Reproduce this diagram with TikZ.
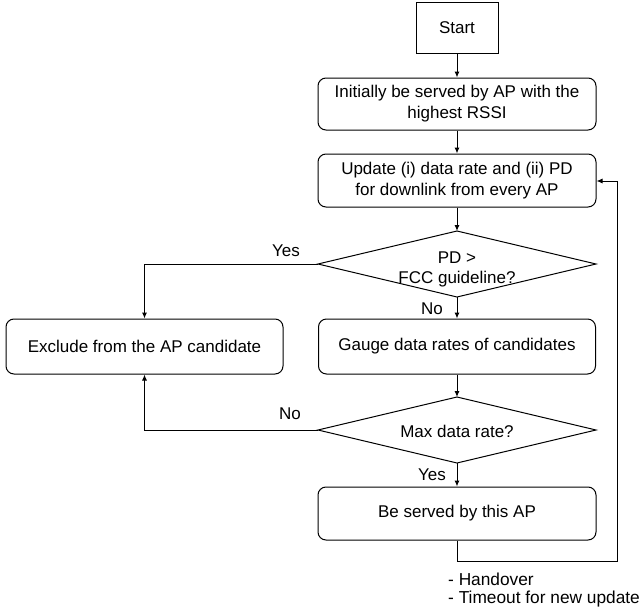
\documentclass[tikz,border=0pt]{standalone}
\usepackage{fontspec}
\setmainfont{Liberation Sans}
\usetikzlibrary{shapes.geometric,arrows.meta}
\begin{document}
\begin{tikzpicture}[x=1pt,y=-1pt,
  every node/.style={font=\fontsize{17}{21}\selectfont},
  proc/.style={draw,line width=1pt,rounded corners=8pt,minimum width=278pt,minimum height=53pt,align=center,inner sep=0pt},
  conn/.style={line width=1pt,-{Latex[length=6pt,width=5pt]}},
  lab/.style={inner sep=0pt}]
\useasboundingbox (0,0) rectangle (641,616);
\node[draw,line width=1pt,minimum width=82pt,minimum height=51pt,inner sep=0pt] (start) at (457,28) {Start};
\node[proc,minimum height=52pt] (init) at (457,104) {Initially be served by AP with the\\highest RSSI};
\node[proc] (upd) at (457,180.5) {Update (i) data rate and (ii) PD\\for downlink from every AP};
\draw[line width=1pt] (318,264) -- (457,231) -- (596,264) -- (457,297) -- cycle;
\coordinate (d1t) at (457,231);
\coordinate (d1l) at (318,264);
\coordinate (d1b) at (457,297);
\node[lab] (d1a) at (457,258) {PD >};
\node[lab] (d1c) at (457,279) {FCC guideline?};
\node[proc,minimum width=277pt,minimum height=55pt] (excl) at (144.5,346.5) {Exclude from the AP candidate};
\node[proc,minimum width=277pt,minimum height=55pt] (gauge) at (457,346.5) {Gauge data rates of candidates};
\draw[line width=1pt] (318,430) -- (457,397) -- (596,430) -- (457,463) -- cycle;
\coordinate (d2t) at (457,397);
\coordinate (d2l) at (318,430);
\coordinate (d2b) at (457,463);
\node[lab] (d2a) at (457,431) {Max data rate?};
\node[proc] (serve) at (457,513.5) {Be served by this AP};
\coordinate (lp1) at (457,561);
\coordinate (lp2) at (617,561);
\coordinate (lp3) at (617,181);
\draw[conn] (start) -- (init);
\draw[conn] (init) -- (upd);
\draw[conn] (upd) -- (d1t);
\draw[conn] (d1l) -| (excl.north);
\draw[conn] (d1b) -- (gauge.north);
\draw[conn] (gauge) -- (d2t);
\draw[conn] (d2l) -| (excl.south);
\draw[conn] (d2b) -- (serve.north);
\draw[conn] (serve.south) -- (lp1) -- (lp2) -- (lp3) -- (upd.east |- lp3);
\node[lab] (yes1) at (286,251) {Yes};
\node[lab] (no1) at (432,309) {No};
\node[lab] (no2) at (290,414) {No};
\node[lab] (yes2) at (432,475) {Yes};
\node[lab,anchor=west,font=\fontsize{17.3}{21}\selectfont] (h1) at (448,579) {- Handover};
\node[lab,anchor=west,font=\fontsize{17.3}{21}\selectfont] (h2) at (448,599) {- Timeout for new update};
\end{tikzpicture}
\end{document}
